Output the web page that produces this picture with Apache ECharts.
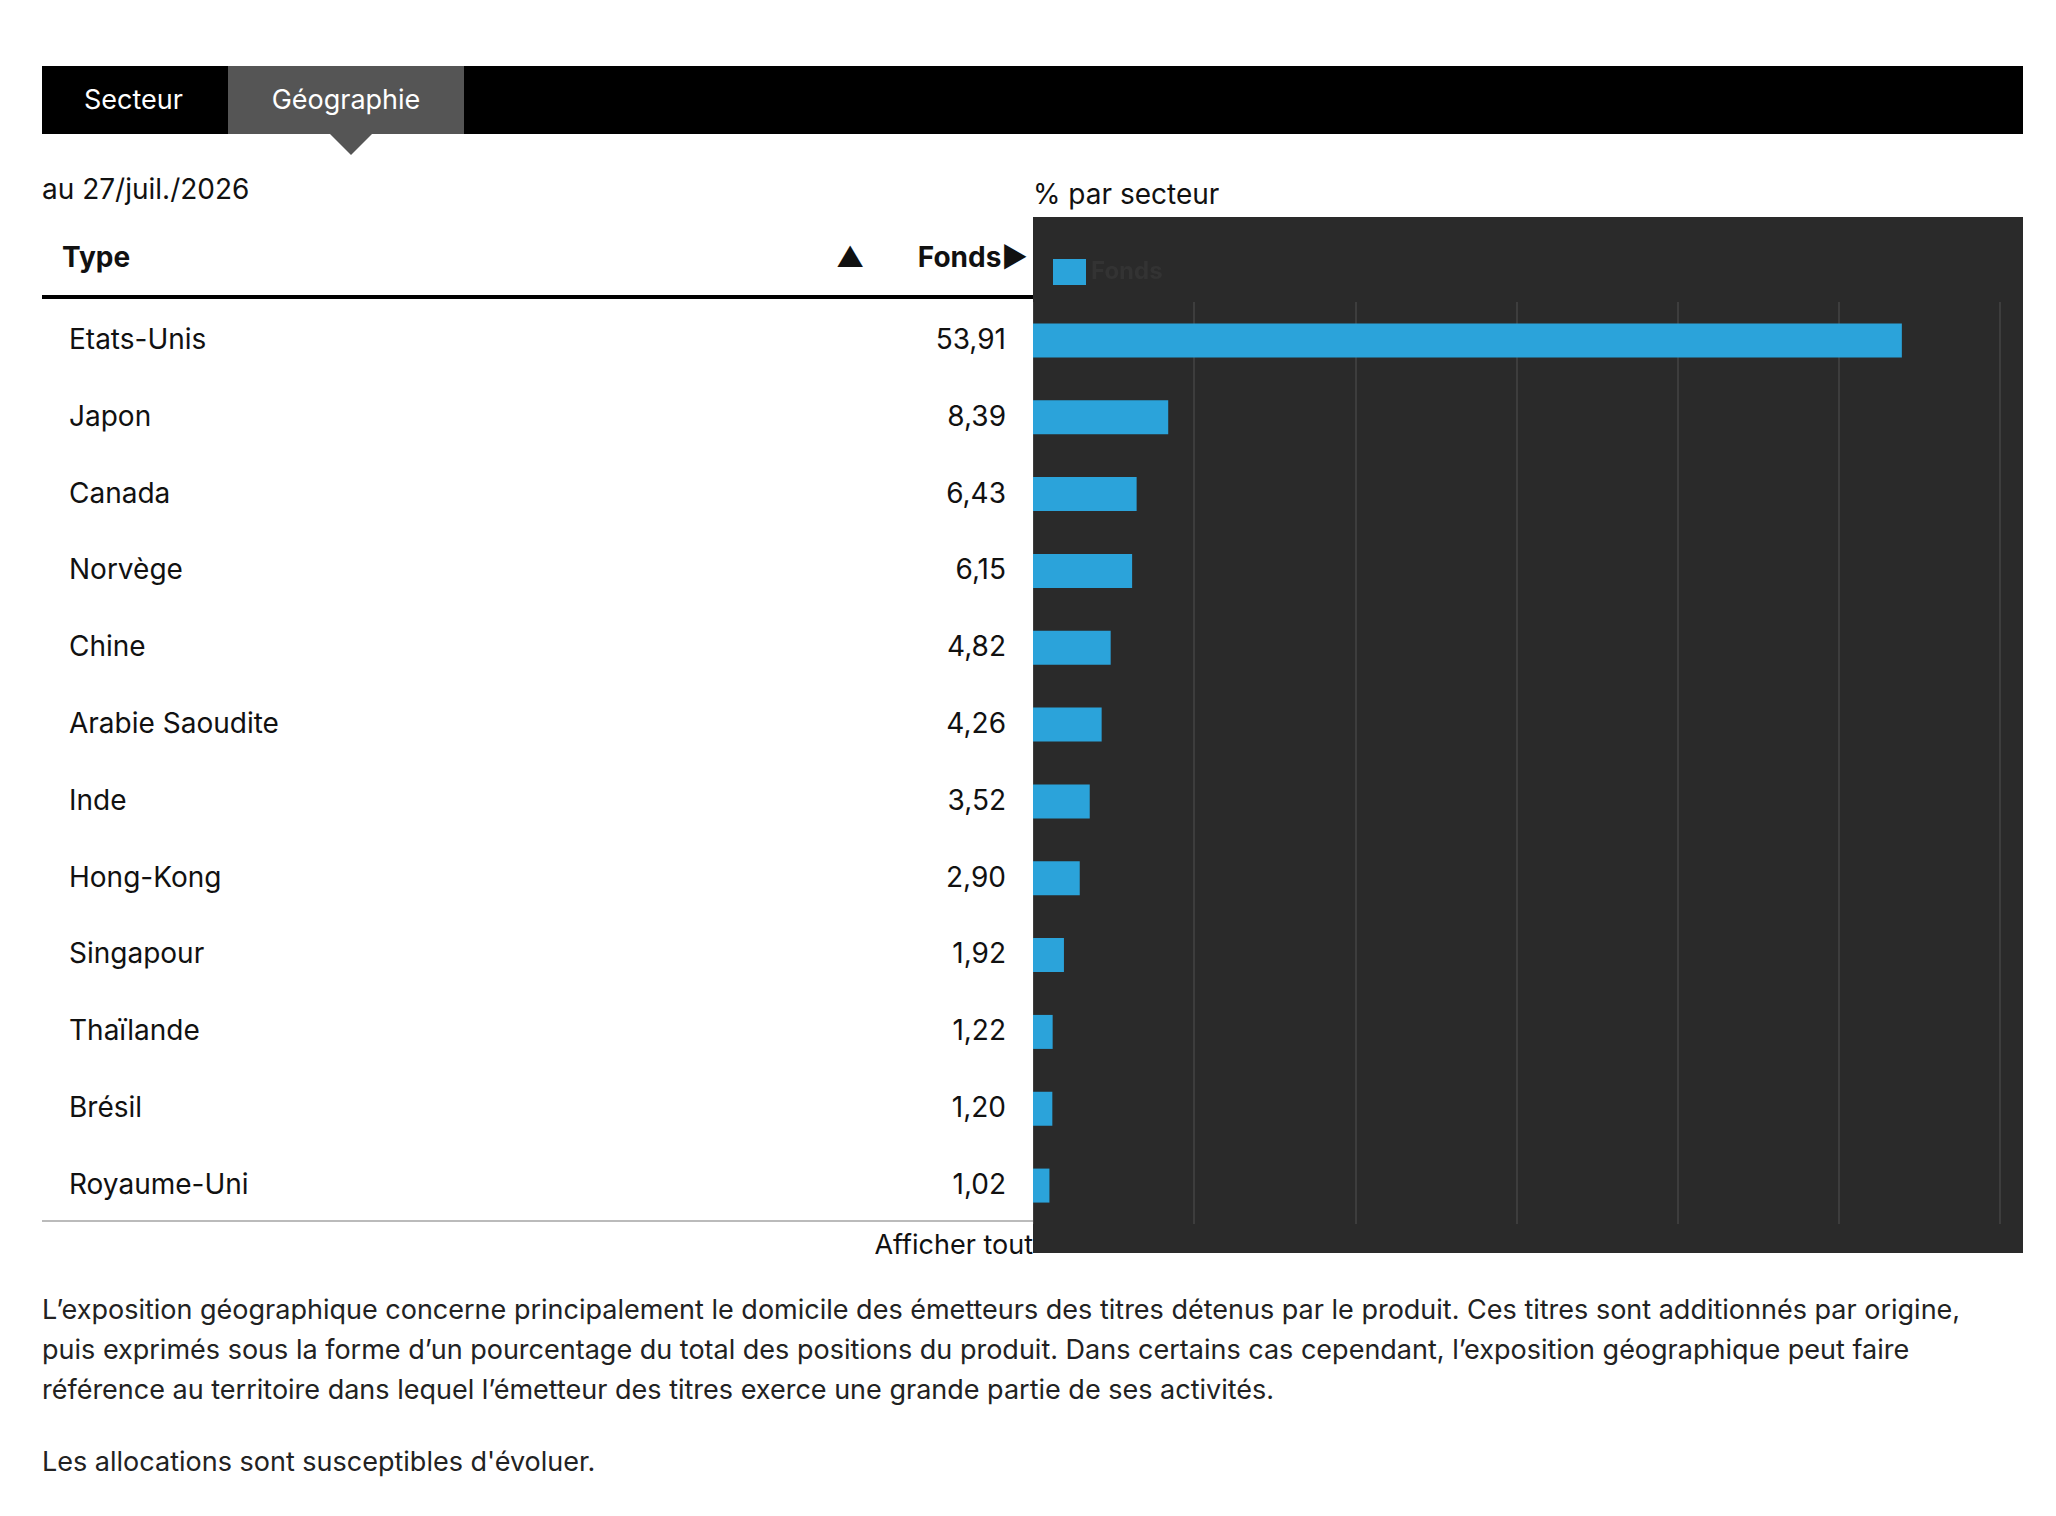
<!DOCTYPE html>
<html>
<head>
<meta charset="utf-8">
<script src="https://cdn.jsdelivr.net/npm/echarts@6/dist/echarts.min.js"></script>
<style>
  body { margin: 0; width: 2056px; height: 1516px; background: #fff; font-family: Inter, "Noto Sans", sans-serif; color: #111; position: relative; overflow: hidden; }
  .abs { position: absolute; }
  #tabs { left: 42px; top: 66px; width: 1981px; height: 68px; background: #000; }
  .tab { top: 0; height: 68px; line-height: 68px; color: #fff; font-size: 27px; text-align: center; }
  #arrow { left: 330px; top: 134px; width: 0; height: 0; border-left: 21px solid transparent; border-right: 21px solid transparent; border-top: 21px solid #555; }
  .txt { font-size: 28px; white-space: nowrap; }
  .row { left: 42px; width: 991px; height: 77px; }
  #chart { left: 1033px; top: 217px; width: 990px; height: 1036px; }
  #note { left: 42px; top: 1290px; width: 1960px; font-size: 27px; line-height: 40px; color: #222; }
</style>
</head>
<body>
<div id="tabs" class="abs">
  <div class="abs tab" style="left:0;width:183px;">Secteur</div>
  <div class="abs tab" style="left:186px;width:236px;background:#555;">Géographie</div>
</div>
<div id="arrow" class="abs"></div>
<div class="abs txt" style="left:42px;top:172px;">au 27/juil./2026</div>
<div class="abs txt" style="left:1033px;top:177px;">% par secteur</div>
<div class="abs txt" style="left:62px;top:240px;font-weight:700;">Type</div>
<div class="abs txt" style="left:836px;top:240px;">▲</div>
<div class="abs txt" style="left:880px;top:240px;width:148px;text-align:right;font-weight:700;">Fonds▶</div>
<div class="abs" style="left:42px;top:295px;width:991px;height:4px;background:#000;"></div>
<div id="rows"></div>
<div class="abs" style="left:42px;top:1220px;width:991px;height:2px;background:#bbb;"></div>
<div class="abs txt" style="left:800px;top:1228px;width:233px;text-align:right;font-size:27px;">Afficher tout</div>
<div id="chart" class="abs"></div>
<div id="note" class="abs">L’exposition géographique concerne principalement le domicile des émetteurs des titres détenus par le produit. Ces titres sont additionnés par origine, puis exprimés sous la forme d’un pourcentage du total des positions du produit. Dans certains cas cependant, l’exposition géographique peut faire référence au territoire dans lequel l’émetteur des titres exerce une grande partie de ses activités.<div style="height:32px"></div>Les allocations sont susceptibles d'évoluer.</div>
<script>
var countries = ['Etats-Unis', 'Japon', 'Canada', 'Norvège', 'Chine', 'Arabie Saoudite', 'Inde', 'Hong-Kong', 'Singapour', 'Thaïlande', 'Brésil', 'Royaume-Uni'];
var fundValues = [53.91, 8.39, 6.43, 6.15, 4.82, 4.26, 3.52, 2.90, 1.92, 1.22, 1.20, 1.02];
var axisMax = 60;
var axisStep = 10;

// table rows
var rowsHtml = '';
countries.forEach(function (name, i) {
  var top = 301 + i * 76.8;
  rowsHtml += '<div class="abs row txt" style="top:' + top + 'px;line-height:77px;">' +
    '<span class="abs" style="left:27px;">' + name + '</span>' +
    '<span class="abs" style="right:27px;">' + fundValues[i].toFixed(2).replace('.', ',') + '</span></div>';
});
document.getElementById('rows').innerHTML = rowsHtml;

var chart = echarts.init(document.getElementById('chart'));
chart.setOption({
  backgroundColor: '#2a2a2a',
  animation: false,
  legend: {
    left: 15, top: 37,
    itemWidth: 33, itemHeight: 26,
    icon: 'rect',
    textStyle: { color: '#333', fontSize: 24, fontWeight: 700, fontFamily: 'Inter' },
    data: ['Fonds']
  },
  grid: { left: 0, right: 23, top: 85, bottom: 29 },
  xAxis: {
    type: 'value', min: 0, max: axisMax, interval: axisStep,
    axisLabel: { show: false }, axisLine: { show: false }, axisTick: { show: false },
    splitLine: { show: true, lineStyle: { color: '#444', width: 1.5 } }
  },
  yAxis: {
    type: 'category', inverse: true, data: countries,
    axisLabel: { show: false }, axisLine: { show: false }, axisTick: { show: false }
  },
  series: [{
    name: 'Fonds', type: 'bar', data: fundValues,
    barWidth: 34, itemStyle: { color: '#2ba3da' }
  }]
});
</script>
</body>
</html>
